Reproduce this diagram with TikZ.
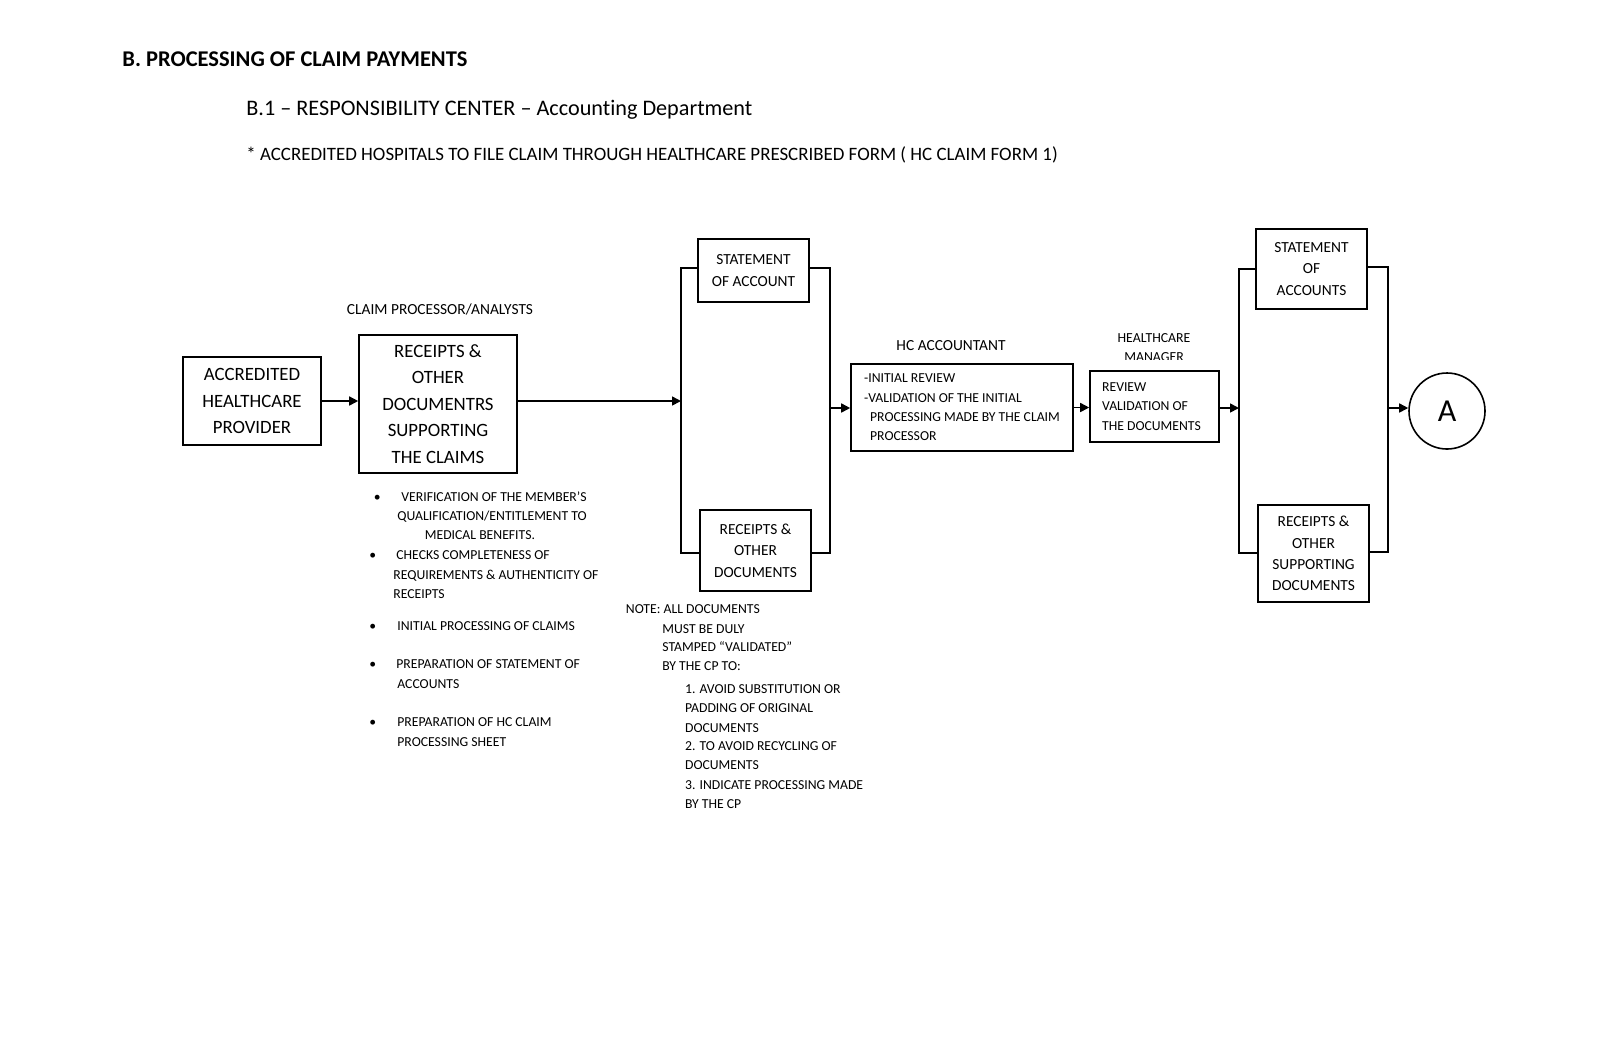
\documentclass[tikz,border=0pt]{standalone}
\usepackage{fontspec}
\setmainfont{Carlito}[Ligatures=NoCommon]
\usetikzlibrary{arrows.meta}
\newcommand{\fsz}[2]{\fontsize{#1}{#2}\selectfont}
\begin{document}
\begin{tikzpicture}[x=0.5pt,y=-0.5pt,
  box/.style={draw, line width=0.8pt, inner sep=0pt, align=center},
  conn/.style={line width=0.8pt},
  arr/.style={conn, -{Triangle[length=4.5pt,width=4.5pt]}},
  lbl/.style={inner sep=0pt, anchor=base west, font=\fsz{6.85}{9.7}},
  hdr/.style={inner sep=0pt, font=\fsz{7.7}{9.7}, align=center},
]
\useasboundingbox (0,0) rectangle (1600,1046);

% titles
\node[inner sep=0pt, anchor=base west, font=\fsz{11.25}{13}\bfseries] (title) at (122,66) {B. PROCESSING OF CLAIM PAYMENTS};
\node[inner sep=0pt, anchor=base west, font=\fsz{11.1}{14}] (sub) at (246,115.5) {B.1 – RESPONSIBILITY CENTER – Accounting Department};
\node[inner sep=0pt, anchor=base west, font=\fsz{9.45}{12}] (note0) at (246,160) {* ACCREDITED HOSPITALS TO FILE CLAIM THROUGH HEALTHCARE PRESCRIBED FORM ( HC CLAIM FORM 1)};

% boxes
\node[box, minimum width=69pt, minimum height=44pt, font=\fsz{9.4}{13.25}] (prov) at (252,401) {ACCREDITED\\HEALTHCARE\\PROVIDER};
\node[box, minimum width=79pt, minimum height=69pt, font=\fsz{9.4}{13.25}] (rec) at (438,404) {RECEIPTS \&\\OTHER\\DOCUMENTRS\\SUPPORTING\\THE CLAIMS};
\node[box, minimum width=55.5pt, minimum height=31.5pt, font=\fsz{7.7}{10.7}] (soa1) at (753.5,270.5) {STATEMENT\\OF ACCOUNT};
\node[box, minimum width=55.5pt, minimum height=40.5pt, font=\fsz{7.7}{10.7}] (rod1) at (755.5,550.5) {RECEIPTS \&\\OTHER\\DOCUMENTS};
\node[box, align=left, minimum width=111pt, minimum height=43.5pt, font=\fsz{6.85}{9.7}] (hca) at (962,407.5) {-INITIAL REVIEW\\-VALIDATION OF THE INITIAL\\\hspace*{3pt}PROCESSING MADE BY THE CLAIM\\\hspace*{3pt}PROCESSOR};
\node[box, align=left, minimum width=64.5pt, minimum height=35.5pt, font=\fsz{6.85}{9.7}] (mgr) at (1154.5,406.5) {REVIEW\\VALIDATION OF\\THE DOCUMENTS\hspace*{3pt}};
\node[box, minimum width=55.5pt, minimum height=40pt, font=\fsz{7.7}{10.7}] (soa2) at (1311.5,269) {STATEMENT\\OF\\ACCOUNTS};
\node[box, minimum width=55.5pt, minimum height=48.5pt, font=\fsz{7.7}{10.7}] (rsd2) at (1313.5,553.5) {RECEIPTS \&\\OTHER\\SUPPORTING\\DOCUMENTS};
\node[draw, circle, line width=0.8pt, minimum size=38pt, inner sep=0pt, font=\fsz{16}{16}] (A) at (1447,411) {A};

% labels
\node[hdr] (cpl) at (440,309) {CLAIM PROCESSOR/ANALYSTS};
\node[hdr] (hcal) at (951,346) {HC ACCOUNTANT};
\begin{scope}
\clip (1080,320) rectangle (1230,359);
\node[hdr, font=\fsz{6.9}{9.7}] (mgrl) at (1154,347.5) {HEALTHCARE\\MANAGER};
\end{scope}

% connectors
\coordinate (b1m) at (681,401);
\coordinate (b1tl) at (681,268);
\coordinate (b1bl) at (681,553);
\coordinate (b1tr) at (830,268);
\coordinate (b1br) at (830,553);
\coordinate (b1o) at (830,408);
\coordinate (b2m) at (1239,408);
\coordinate (b2tl) at (1239,269);
\coordinate (b2bl) at (1239,553);
\coordinate (b2tr) at (1388,267);
\coordinate (b2br) at (1388,552);
\coordinate (b2o) at (1388,408);

\draw[arr] (prov.east) -- (prov.east -| rec.west);
\draw[arr] (rec.east |- b1m) -- (b1m);
\draw[conn] (soa1.west |- b1tl) -- (b1tl) -- (b1bl) -- (rod1.west |- b1bl);
\draw[conn] (soa1.east |- b1tr) -- (b1tr) -- (b1br) -- (rod1.east |- b1br);
\draw[arr] (b1o) -- (b1o -| hca.west);
\draw[arr] (hca.east) -- (hca.east -| mgr.west);
\draw[arr] (mgr.east |- b2m) -- (b2m);
\draw[conn] (soa2.west |- b2tl) -- (b2tl) -- (b2bl) -- (rsd2.west |- b2bl);
\draw[conn] (soa2.east |- b2tr) -- (b2tr) -- (b2br) -- (rsd2.east |- b2br);
\draw[arr] (b2o) -- (b2o -| A.west);

% bullets
\node[lbl] (u1) at (373.5,501.5) {•};
\node[lbl] (u2) at (369,559.5) {•};
\node[lbl] (u3) at (369,630) {•};
\node[lbl] (u4) at (369,668.5) {•};
\node[lbl] (u5) at (369,726.5) {•};
\node[lbl] (t1) at (401,501.5) {VERIFICATION OF THE MEMBER’S};
\node[lbl] (t2) at (397,520.5) {QUALIFICATION/ENTITLEMENT TO};
\node[lbl] (t3) at (424.5,539.5) {MEDICAL BENEFITS.};
\node[lbl] (t4) at (396,559.5) {CHECKS COMPLETENESS OF};
\node[lbl] (t5) at (393,579) {REQUIREMENTS \& AUTHENTICITY OF};
\node[lbl] (t6) at (393,598.5) {RECEIPTS};
\node[lbl] (t7) at (397,630) {INITIAL PROCESSING OF CLAIMS};
\node[lbl] (t8) at (396,668.5) {PREPARATION OF STATEMENT OF};
\node[lbl] (t9) at (397,688) {ACCOUNTS};
\node[lbl] (t10) at (397,726.5) {PREPARATION OF HC CLAIM};
\node[lbl] (t11) at (397,746.5) {PROCESSING SHEET};

% note
\node[lbl] (m1) at (625.5,613.5) {NOTE: ALL DOCUMENTS};
\node[lbl] (m2) at (662,633) {MUST BE DULY};
\node[lbl] (m3) at (662,651.5) {STAMPED “VALIDATED”};
\node[lbl] (m4) at (662,670.5) {BY THE CP TO:};
\node[lbl] (m5) at (684.7,693.5) {1. AVOID SUBSTITUTION OR};
\node[lbl] (m6) at (684.7,712.5) {PADDING OF ORIGINAL};
\node[lbl] (m7) at (684.7,732) {DOCUMENTS};
\node[lbl] (m8) at (684.7,750.5) {2. TO AVOID RECYCLING OF};
\node[lbl] (m9) at (684.7,769.5) {DOCUMENTS};
\node[lbl] (m10) at (684.7,789) {3. INDICATE PROCESSING MADE};
\node[lbl] (m11) at (684.7,808.5) {BY THE CP};
\end{tikzpicture}
\end{document}
